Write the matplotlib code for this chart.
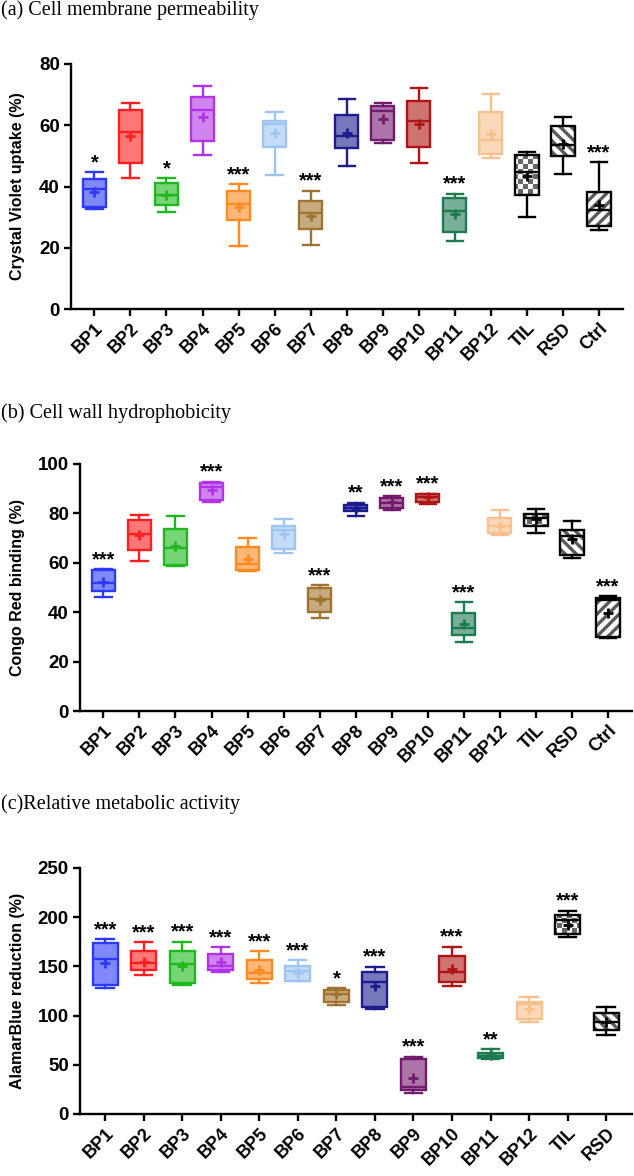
import numpy as np
import matplotlib
matplotlib.use("Agg")
import matplotlib.pyplot as plt
from matplotlib.patches import PathPatch
from matplotlib.colors import ListedColormap, to_rgba

plt.rcParams['font.family'] = ['Liberation Sans', 'DejaVu Sans']
plt.rcParams['hatch.linewidth'] = 2.4

# ---- data: min, Q1, median, Q3, max, mean ----
groups = ['BP1', 'BP2', 'BP3', 'BP4', 'BP5', 'BP6', 'BP7', 'BP8', 'BP9',
          'BP10', 'BP11', 'BP12', 'TIL', 'RSD', 'Ctrl']
groups_c = groups[:-1]

# (a) crystal violet uptake
cv_min = [32.6, 42.8, 31.7, 50.2, 20.5, 43.6, 21.0, 46.8, 54.3, 47.8, 22.3, 49.3, 30.2, 44.2, 25.8]
cv_q1 = [33.3, 47.8, 34.1, 54.8, 29.2, 52.9, 26.2, 52.5, 55.2, 52.9, 25.0, 50.5, 37.1, 49.8, 27.2]
cv_med = [39.2, 57.9, 37.2, 65.1, 34.3, 60.4, 31.3, 56.5, 64.8, 61.3, 32.0, 55.3, 44.6, 53.7, 32.2]
cv_q3 = [42.5, 64.9, 41.1, 69.2, 38.6, 61.5, 35.2, 63.5, 66.2, 68.0, 36.3, 64.2, 50.2, 59.7, 38.2]
cv_max = [44.7, 67.2, 42.8, 72.7, 40.8, 64.3, 38.6, 68.6, 67.3, 72.1, 37.7, 70.1, 51.4, 62.8, 47.9]
cv_mean = [38.3, 56.5, 37.2, 62.8, 33.2, 57.5, 30.5, 57.5, 62.0, 60.4, 31.1, 57.2, 43.3, 53.9, 33.8]
cv_sig = ['*', '', '*', '', '***', '', '***', '', '', '', '***', '', '', '', '***']

# (b) congo red binding
cr_min = [46.1, 60.6, 58.7, 84.7, 56.7, 63.9, 37.5, 78.9, 81.3, 84.0, 28.0, 71.2, 72.0, 62.0, 29.6]
cr_q1 = [48.6, 65.2, 59.1, 85.3, 57.2, 65.4, 40.2, 80.9, 82.0, 84.7, 30.6, 71.9, 74.7, 63.2, 29.8]
cr_med = [51.8, 71.7, 66.0, 90.5, 59.5, 73.3, 45.3, 82.3, 84.4, 86.7, 33.7, 75.0, 78.1, 70.9, 44.9]
cr_q3 = [57.0, 77.4, 73.6, 92.4, 66.2, 75.0, 49.8, 83.4, 86.3, 87.7, 39.8, 78.2, 79.6, 73.3, 45.8]
cr_max = [57.5, 79.4, 78.8, 92.8, 70.1, 77.8, 51.0, 84.4, 87.0, 88.0, 44.1, 81.3, 81.9, 77.1, 46.5]
cr_mean = [52.2, 71.3, 66.6, 89.3, 61.4, 71.6, 44.9, 82.3, 84.5, 86.6, 35.2, 75.0, 77.8, 69.6, 39.8]
cr_sig = ['***', '', '', '***', '', '', '***', '**', '***', '***', '***', '', '', '', '***']

# (c) alamarBlue reduction
ab_min = [128.4, 140.9, 131.4, 144.6, 133.5, 134.8, 110.8, 107.0, 21.7, 130.4, 56.2, 93.5, 179.5, 79.9]
ab_q1 = [131.4, 146.7, 133.5, 146.0, 137.5, 135.5, 114.2, 108.4, 24.4, 133.8, 56.6, 96.2, 182.6, 85.4]
ab_med = [157.2, 153.8, 152.8, 150.5, 143.0, 145.7, 121.6, 134.5, 27.0, 144.6, 59.3, 111.5, 196.8, 93.5]
ab_q3 = [173.4, 165.7, 165.3, 162.3, 156.8, 150.1, 126.0, 144.6, 55.9, 160.2, 61.7, 114.2, 202.6, 102.3]
ab_max = [177.8, 174.8, 175.1, 169.4, 165.3, 156.2, 127.7, 149.7, 58.3, 170.1, 66.1, 118.6, 206.6, 108.4]
ab_mean = [153.8, 154.8, 150.7, 154.0, 146.0, 143.0, 121.9, 130.4, 36.2, 147.7, 59.6, 106.7, 192.4, 93.2]
ab_sig = ['***', '***', '***', '***', '***', '***', '*', '***', '***', '***', '**', '', '***', '']

group_colors = {
    'BP1': '#2b3af5', 'BP2': '#ff1f1f', 'BP3': '#1db91d', 'BP4': '#b232e6',
    'BP5': '#ff8a1f', 'BP6': '#9ec5f2', 'BP7': '#a0742e', 'BP8': '#1c1c8e',
    'BP9': '#741a6c', 'BP10': '#b01515', 'BP11': '#1e7b50', 'BP12': '#f7c08c',
    'TIL': 'black', 'RSD': 'black', 'Ctrl': 'black',
}
hatches = {'RSD': '\\\\\\', 'Ctrl': '///'}

W, H = 634, 1176
fig = plt.figure(figsize=(W / 100, H / 100), dpi=100)


def add_ax(left, top, right, bottom):
    return fig.add_axes([left / W, 1 - bottom / H, (right - left) / W, (bottom - top) / H])


def checker_fill(ax, box):
    # checkerboard fill (TIL), clipped to the box outline
    nx = int(ax.bbox.width / 5)
    ny = int(ax.bbox.height / 5)
    arr = np.add.outer(np.arange(ny), np.arange(nx)) % 2
    im = ax.imshow(arr, cmap=ListedColormap(['#666666', 'white']), extent=(0, 1, 0, 1),
                   transform=ax.transAxes, aspect='auto', interpolation='nearest', zorder=1.9)
    im.set_clip_path(box)


def draw_panel(ax, labels, mins, q1s, meds, q3s, maxs, means, sig, ymax, ystep, ylabel, xlab):
    pos = np.arange(1, len(labels) + 1)
    stats = [dict(whislo=a, q1=b, med=c, q3=d, whishi=e, mean=f, fliers=[])
             for a, b, c, d, e, f in zip(mins, q1s, meds, q3s, maxs, means)]
    art = ax.bxp(stats, positions=pos, widths=0.65, patch_artist=True, showmeans=True,
                 showfliers=False, capwidths=0.45, zorder=2,
                 boxprops=dict(linewidth=1.7), whiskerprops=dict(linewidth=1.7),
                 capprops=dict(linewidth=1.7), medianprops=dict(linewidth=1.7),
                 meanprops=dict(marker='+', markersize=6.5, markeredgewidth=2))
    for i, g in enumerate(labels):
        c = group_colors[g]
        box = art['boxes'][i]
        box.set_edgecolor(c)
        if g == 'TIL':
            box.set_facecolor('none')
            checker_fill(ax, box)
        elif g in hatches:
            box.set_facecolor('none')
            hp = PathPatch(box.get_path(), facecolor='white', edgecolor='#5a5a5a',
                           linewidth=0, hatch=hatches[g], zorder=1.9)
            ax.add_patch(hp)
        else:
            box.set_facecolor(to_rgba(c, 0.6))
        for a in art['whiskers'][2 * i:2 * i + 2] + art['caps'][2 * i:2 * i + 2]:
            a.set_color(c)
        art['medians'][i].set_color(c)
        art['means'][i].set_markeredgecolor(c)
        art['means'][i].set_markerfacecolor(c)
        if sig[i]:
            ax.annotate(sig[i], (pos[i], maxs[i]), xytext=(0, 0), textcoords='offset points',
                        ha='center', va='bottom', fontsize=14.5, fontweight='bold')

    ax.set_xlim(0.35, len(labels) + 0.67)
    ax.set_ylim(0, ymax)
    ax.set_yticks(np.arange(0, ymax + 1, ystep))
    ax.set_xticks(pos)
    ax.set_xticklabels(labels, rotation=45, ha='right', va='top', rotation_mode='anchor',
                       fontsize=13, fontweight='bold')
    for t in ax.get_yticklabels():
        t.set_fontsize(13.5)
        t.set_fontweight('bold')
    ax.set_ylabel(ylabel, fontsize=11.5, fontweight='bold')
    ax.yaxis.set_label_coords(xlab, 0.5)
    for s in ['top', 'right']:
        ax.spines[s].set_visible(False)
    for s in ['left', 'bottom']:
        ax.spines[s].set_linewidth(1.7)
    ax.tick_params(width=1.7, length=5, pad=3)


ax_a = add_ax(71, 64, 623, 309)
draw_panel(ax_a, groups, cv_min, cv_q1, cv_med, cv_q3, cv_max, cv_mean, cv_sig,
           80, 20, 'Crystal Violet uptake (%)', -0.083)

ax_b = add_ax(80, 464, 632, 711)
draw_panel(ax_b, groups, cr_min, cr_q1, cr_med, cr_q3, cr_max, cr_mean, cr_sig,
           100, 20, 'Congo Red binding (%)', -0.10)

ax_c = add_ax(80, 868, 632, 1114)
draw_panel(ax_c, groups_c, ab_min, ab_q1, ab_med, ab_q3, ab_max, ab_mean, ab_sig,
           250, 50, 'AlamarBlue reduction (%)', -0.10)

title_font = dict(family=['Liberation Serif', 'DejaVu Serif'], fontsize=14.5, va='baseline')
fig.text(0.002, 1 - 15 / H, '(a) Cell membrane permeability', **title_font)
fig.text(0.002, 1 - 418 / H, '(b) Cell wall hydrophobicity', **title_font)
fig.text(0.002, 1 - 809 / H, '(c)Relative metabolic activity', **title_font)

fig.savefig('out.png', dpi=100)
